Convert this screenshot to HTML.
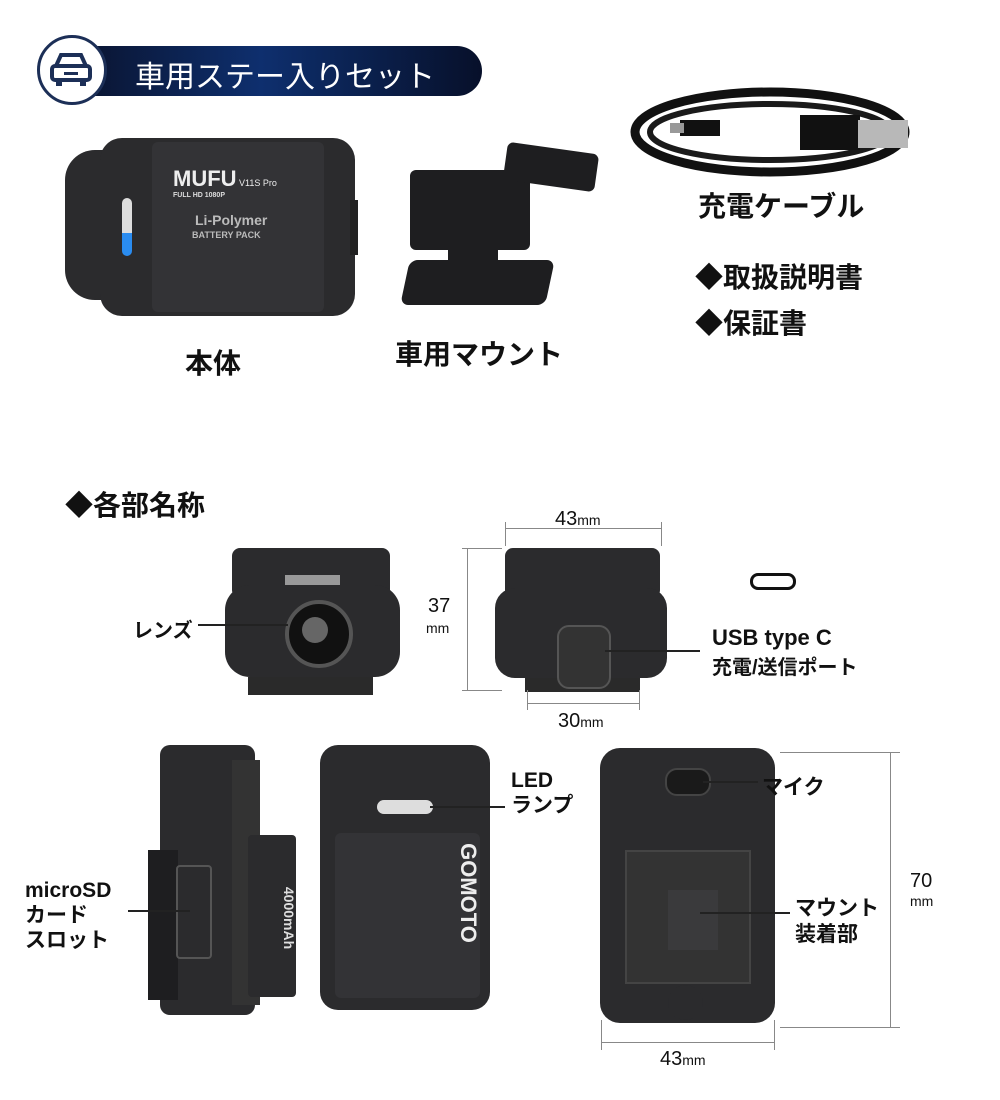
<!DOCTYPE html>
<html><head><meta charset="utf-8"><style>
body{margin:0;width:1000px;height:1100px;background:#fff;position:relative;overflow:hidden;font-family:"Liberation Sans","Noto Sans CJK JP",sans-serif;color:#111}
.a{position:absolute}
.t{position:absolute;font-weight:bold;white-space:nowrap}
.dk{background:#2b2b2d}
.dk2{background:#1e1e20}
.ln{position:absolute;background:#222}
</style></head><body>
<!-- header -->
<div class="a" style="left:80px;top:46px;width:402px;height:50px;border-radius:0 25px 25px 0;background:linear-gradient(90deg,#0a1430,#0e2f6e 45%,#07102a)"></div>
<div class="a" style="left:37px;top:35px;width:64px;height:64px;border-radius:50%;background:#fff;border:3px solid #1c2f57"></div>
<svg class="a" style="left:48px;top:50px" width="46" height="40" viewBox="0 0 46 40"><path d="M8 16 L13 5 H33 L38 16 Z" fill="none" stroke="#1c2f57" stroke-width="4"/><rect x="4" y="16" width="38" height="14" rx="3" fill="none" stroke="#1c2f57" stroke-width="4"/><rect x="8" y="30" width="6" height="6" fill="#1c2f57"/><rect x="32" y="30" width="6" height="6" fill="#1c2f57"/><rect x="16" y="22" width="14" height="3" fill="#1c2f57"/></svg>
<div class="t" style="left:135px;top:52px;font-size:30px;color:#fff;font-weight:normal">車用ステー入りセット</div>

<!-- main body -->
<div class="a dk" style="left:65px;top:150px;width:110px;height:150px;border-radius:30px 10px 10px 30px"></div>
<div class="a dk" style="left:100px;top:138px;width:255px;height:178px;border-radius:22px"></div>
<div class="a" style="left:152px;top:142px;width:172px;height:170px;background:#333336;border-radius:6px"></div>
<div class="a" style="left:122px;top:198px;width:10px;height:58px;border-radius:5px;background:linear-gradient(#ddd 60%,#2a8cf0 60%)"></div>
<div class="t" style="left:173px;top:166px;font-size:22px;color:#eee">MUFU<span style="font-size:9px;font-weight:normal"> V11S Pro</span></div>
<div class="t" style="left:173px;top:192px;font-size:7px;color:#ddd">FULL HD 1080P</div>
<div class="t" style="left:195px;top:212px;font-size:14px;color:#bbb">Li-Polymer</div>
<div class="t" style="left:192px;top:230px;font-size:9px;color:#bbb">BATTERY PACK</div>
<div class="a" style="left:350px;top:200px;width:8px;height:55px;background:#222"></div>
<!-- mount -->
<div class="a dk2" style="left:410px;top:170px;width:120px;height:80px;border-radius:6px"></div>
<div class="a dk2" style="left:505px;top:148px;width:92px;height:38px;border-radius:6px;transform:rotate(8deg)"></div>
<div class="a dk2" style="left:448px;top:245px;width:50px;height:50px"></div>
<div class="a dk2" style="left:405px;top:260px;width:145px;height:45px;border-radius:8px;transform:skewX(-12deg)"></div>
<!-- cable -->
<svg class="a" style="left:630px;top:80px" width="300" height="110"><ellipse cx="140" cy="52" rx="135" ry="40" fill="none" stroke="#111" stroke-width="9"/><ellipse cx="140" cy="52" rx="120" ry="28" fill="none" stroke="#1a1a1a" stroke-width="6"/><rect x="170" y="35" width="60" height="35" fill="#111"/><rect x="228" y="40" width="50" height="28" fill="#b8b8b8"/><rect x="50" y="40" width="40" height="16" fill="#111"/><rect x="40" y="43" width="14" height="10" fill="#999"/></svg>
<div class="t" style="left:698px;top:185px;font-size:28px">充電ケーブル</div>
<div class="t" style="left:695px;top:256px;font-size:28px">◆取扱説明書</div>
<div class="t" style="left:695px;top:302px;font-size:28px">◆保証書</div>
<div class="t" style="left:185px;top:342px;font-size:28px">本体</div>
<div class="t" style="left:395px;top:333px;font-size:28px">車用マウント</div>

<div class="t" style="left:65px;top:484px;font-size:28px">◆各部名称</div>

<!-- front camera -->
<div class="a dk" style="left:232px;top:548px;width:158px;height:50px;border-radius:8px"></div>
<div class="a" style="left:285px;top:575px;width:55px;height:12px;background:#999"></div>
<div class="a dk" style="left:225px;top:585px;width:175px;height:92px;border-radius:25px"></div>
<div class="a" style="left:248px;top:677px;width:125px;height:18px;background:#2a2a2a"></div>
<div class="a" style="left:285px;top:600px;width:60px;height:60px;border-radius:50%;background:#111;border:4px solid #555"></div>
<div class="a" style="left:302px;top:617px;width:26px;height:26px;border-radius:50%;background:#666"></div>
<div class="ln" style="left:198px;top:624px;width:90px;height:2px"></div>
<div class="t" style="left:133px;top:614px;font-size:20px">レンズ</div>
<!-- back camera -->
<div class="a dk" style="left:505px;top:548px;width:155px;height:50px;border-radius:8px"></div>
<div class="a dk" style="left:495px;top:588px;width:172px;height:90px;border-radius:20px"></div>
<div class="a" style="left:525px;top:678px;width:115px;height:14px;background:#2a2a2a"></div>
<div class="a" style="left:557px;top:625px;width:50px;height:60px;border-radius:12px;background:#333;border:2px solid #555"></div>
<div class="ln" style="left:605px;top:650px;width:95px;height:2px"></div>
<div class="a" style="left:750px;top:573px;width:40px;height:11px;border:3px solid #111;border-radius:8px"></div>
<div class="t" style="left:712px;top:625px;font-size:22px">USB type C</div>
<div class="t" style="left:712px;top:651px;font-size:20px">充電/送信ポート</div>
<!-- dims -->
<div class="ln" style="left:505px;top:528px;width:157px;height:1px;background:#888"></div>
<div class="ln" style="left:505px;top:522px;width:1px;height:24px;background:#888"></div>
<div class="ln" style="left:661px;top:522px;width:1px;height:24px;background:#888"></div>
<div class="t" style="left:555px;top:508px;font-size:20px;font-weight:normal">43<span style="font-size:14px">mm</span></div>
<div class="ln" style="left:467px;top:548px;width:1px;height:143px;background:#888"></div>
<div class="ln" style="left:462px;top:548px;width:40px;height:1px;background:#888"></div>
<div class="ln" style="left:462px;top:690px;width:40px;height:1px;background:#888"></div>
<div class="t" style="left:428px;top:595px;font-size:20px;font-weight:normal">37</div>
<div class="t" style="left:426px;top:620px;font-size:14px;font-weight:normal">mm</div>
<div class="ln" style="left:527px;top:703px;width:112px;height:1px;background:#888"></div>
<div class="ln" style="left:527px;top:690px;width:1px;height:20px;background:#888"></div>
<div class="ln" style="left:639px;top:690px;width:1px;height:20px;background:#888"></div>
<div class="t" style="left:558px;top:710px;font-size:20px;font-weight:normal">30<span style="font-size:14px">mm</span></div>

<!-- side view -->
<div class="a dk" style="left:160px;top:745px;width:95px;height:270px;border-radius:10px"></div>
<div class="a dk2" style="left:148px;top:850px;width:30px;height:150px"></div>
<div class="a" style="left:176px;top:865px;width:32px;height:90px;border-radius:4px;border:2px solid #555;background:#2b2b2d"></div>
<div class="a" style="left:232px;top:760px;width:28px;height:245px;background:#333"></div>
<div class="a dk" style="left:248px;top:835px;width:48px;height:162px;border-radius:4px"></div>
<div class="t" style="left:258px;top:910px;font-size:14px;color:#ddd;transform:rotate(90deg)">4000mAh</div>
<div class="ln" style="left:128px;top:910px;width:62px;height:2px"></div>
<div class="t" style="left:25px;top:878px;font-size:21px;line-height:25px">microSD<br>カード<br>スロット</div>
<!-- front view -->
<div class="a dk" style="left:320px;top:745px;width:170px;height:265px;border-radius:18px"></div>
<div class="a" style="left:335px;top:833px;width:145px;height:165px;background:#333336;border-radius:6px"></div>
<div class="a" style="left:377px;top:800px;width:56px;height:14px;border-radius:7px;background:#ddd"></div>
<div class="t" style="left:418px;top:880px;font-size:22px;color:#eee;transform:rotate(90deg)">GOMOTO</div>
<div class="ln" style="left:430px;top:806px;width:75px;height:2px"></div>
<div class="t" style="left:511px;top:768px;font-size:21px;line-height:25px">LED<br>ランプ</div>
<!-- back view -->
<div class="a dk" style="left:600px;top:748px;width:175px;height:275px;border-radius:20px"></div>
<div class="a" style="left:625px;top:850px;width:122px;height:130px;background:#333;border:2px solid #444"></div>
<div class="a" style="left:668px;top:890px;width:50px;height:60px;background:#3a3a3c"></div>
<div class="a" style="left:665px;top:768px;width:42px;height:24px;border-radius:12px;background:#1a1a1a;border:2px solid #444"></div>
<div class="a dk" style="left:668px;top:985px;width:35px;height:35px;border-radius:50%"></div>
<div class="ln" style="left:703px;top:781px;width:55px;height:2px"></div>
<div class="t" style="left:762px;top:771px;font-size:21px">マイク</div>
<div class="ln" style="left:700px;top:912px;width:90px;height:2px"></div>
<div class="t" style="left:795px;top:896px;font-size:21px;line-height:26px">マウント<br>装着部</div>
<div class="ln" style="left:890px;top:752px;width:1px;height:276px;background:#888"></div>
<div class="ln" style="left:780px;top:752px;width:120px;height:1px;background:#888"></div>
<div class="ln" style="left:780px;top:1027px;width:120px;height:1px;background:#888"></div>
<div class="t" style="left:910px;top:870px;font-size:20px;font-weight:normal">70</div>
<div class="t" style="left:910px;top:893px;font-size:14px;font-weight:normal">mm</div>
<div class="ln" style="left:601px;top:1042px;width:173px;height:1px;background:#888"></div>
<div class="ln" style="left:601px;top:1020px;width:1px;height:30px;background:#888"></div>
<div class="ln" style="left:774px;top:1020px;width:1px;height:30px;background:#888"></div>
<div class="t" style="left:660px;top:1048px;font-size:20px;font-weight:normal">43<span style="font-size:14px">mm</span></div>
</body></html>
